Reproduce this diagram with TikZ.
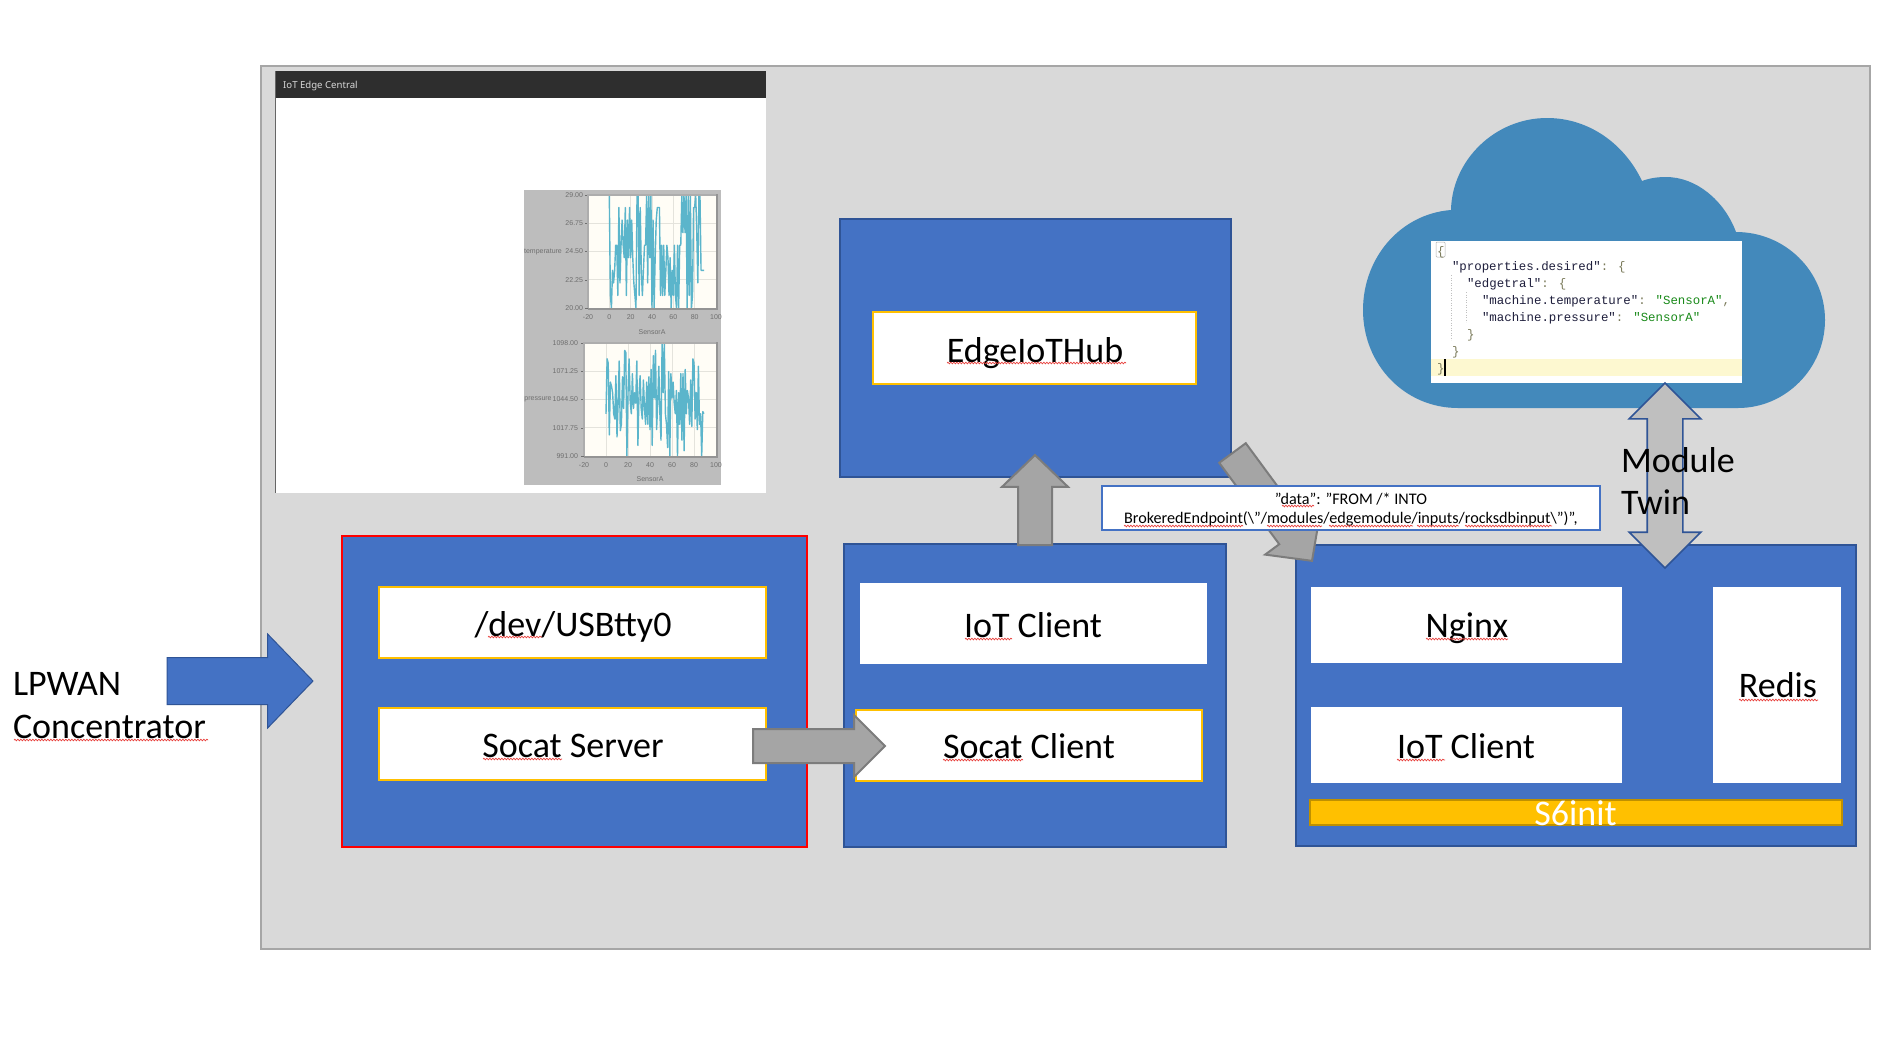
\documentclass[tikz,border=0pt]{standalone}
\usepackage{fontspec}
\setmainfont{Carlito}
\newfontfamily\monof{Liberation Mono}
\newfontfamily\notof{Noto Sans}
\newfontfamily\arialf{Liberation Sans}
\usetikzlibrary{shapes.arrows,decorations.pathmorphing}
\definecolor{panelgray}{HTML}{D9D9D9}
\definecolor{panelline}{HTML}{A6A6A6}
\definecolor{msblue}{HTML}{4472C4}
\definecolor{msblueline}{HTML}{2F5496}
\definecolor{msgold}{HTML}{FFC000}
\definecolor{msgoldline}{HTML}{BF9000}
\definecolor{arrowgray}{HTML}{A5A5A5}
\definecolor{arrowline}{HTML}{7C7C7C}
\definecolor{cloudblue}{HTML}{4389BB}
\definecolor{chartbg}{HTML}{BDBDBD}
\definecolor{plotbg}{HTML}{FFFDF6}
\definecolor{plotline}{HTML}{5BB5CB}
\definecolor{gridc}{HTML}{E4E3DC}
\definecolor{tickc}{HTML}{6E6E6E}
\definecolor{jsonkey}{HTML}{1E1E3C}
\definecolor{jsonbrace}{HTML}{7A7A5A}
\definecolor{jsonstr}{HTML}{1A8A1A}
\definecolor{jsonline}{HTML}{FDF8D0}
\definecolor{squigc}{HTML}{E8403C}
\tikzset{
  boxbase/.style={rectangle,inner sep=0pt,outer sep=0pt,line width=2pt},
  bluebox/.style={boxbase,fill=msblue,draw=msblueline},
  redbox/.style={boxbase,fill=msblue,draw=red},
  goldbox/.style={boxbase,fill=white,draw=msgold},
  whitebox/.style={boxbase,fill=white},
  lab/.style={inner sep=0pt,outer sep=0pt,anchor=base,font=\fontsize{36}{36}\selectfont},
  leftlab/.style={lab,anchor=base west},
  smalllab/.style={inner sep=0pt,outer sep=0pt,anchor=base,font=\fontsize{16.15}{16.15}\selectfont},
  jsonlab/.style={inner sep=0pt,outer sep=0pt,anchor=base west,font=\monof\fontsize{12.4}{12.4}\selectfont},
  tick/.style={inner sep=0pt,outer sep=0pt,text=tickc,font=\arialf\fontsize{7}{7}\selectfont},
  grayarrow/.style={single arrow,inner xsep=0pt,outer sep=0pt,anchor=tail,
    fill=arrowgray,draw=arrowline,line width=2pt},
  squig/.style={draw=squigc,line width=0.7pt,decorate,decoration={snake,amplitude=0.8pt,segment length=3pt}},
  plotcurve/.style={draw=plotline,line width=1.4pt,line join=round},
  plotframe/.style={draw=black!32,line width=1.2pt},
  plotshade/.style={draw=black!42,line width=2pt},
}
\begin{document}
\begin{tikzpicture}[x=1pt,y=-1pt]
\useasboundingbox[fill=white] (0,0) rectangle (1898,1039);
% outer panel
\node[boxbase,fill=panelgray,draw=panelline,minimum width=1609pt,minimum height=883pt] (panel) at (1065.5,507.5) {};
% screenshot
\node[boxbase,fill=white,minimum width=491pt,minimum height=422pt] (shot) at (520.5,282) {};
\node[boxbase,fill=black!82,minimum width=491pt,minimum height=27pt] (bar) at (520.5,84.5) {};
\node[inner sep=0pt,anchor=base west,text=white!85!black,font=\notof\fontsize{9.6}{9.6}\selectfont] (bartext) at (283,88) {IoT Edge Central};
\draw[black!60,line width=0.8pt] (shot.north west) -- (shot.south west);
\node[boxbase,fill=chartbg,minimum width=197pt,minimum height=295pt] (chart) at (622.5,337.5) {};
% chart 1
\node[boxbase,fill=plotbg,minimum width=128pt,minimum height=113pt] (p1) at (652,251.5) {};
\foreach \yy/\t in {195/29.00,223.25/26.75,251.5/24.50,279.75/22.25,308/20.00}{
  \draw[gridc,line width=0.7pt] (588,\yy) -- (716,\yy);
  \draw[tickc,line width=0.5pt] (585,\yy) -- (588,\yy);
  \node[tick,anchor=east] at (583,\yy) {\t};
}
\foreach \xx/\t in {588/-20,609.3/0,630.7/20,652/40,673.3/60,694.7/80,716/100}{
  \draw[gridc,line width=0.7pt] (\xx,195) -- (\xx,308);
  \node[tick] at (\xx,317.5) {\t};
}
\begin{scope}
\clip (588,195) rectangle (716,308);
\begin{scope}[shift={(609.3,308)},x=1.0667pt,y=12.56pt]
\draw[plotcurve] (0,9) foreach \v [count=\i] in {1,0,3,2,3,5,5,1,8,2,5,7,5,4,8,1,7,4,8,4,7,4,2,1,0,9,9,1,8,3,1,3,5,5,9,2,9,4,9,0,7,0,4,7,8,8,8,1,5,1,5,1,3,5,4,1,4,0,3,1,5,1,0,5,0,5,5,9,6,9,6,9,0,9,1,9,0,1,8,8,9,6,2,9,9,3,3,3,3}{ -- (\i,\v) };
\end{scope}
\end{scope}
\draw[plotframe] (716,195) -- (588,195) -- (588,308);
\draw[plotshade] (717,194) -- (717,309) -- (588,309);
\node[tick] (tlab) at (543,252) {temperature};
\node[tick] (xlab1) at (652,332) {SensorA};
% chart 2
\node[boxbase,fill=plotbg,minimum width=132pt,minimum height=113pt] (p2) at (650,399.5) {};
\foreach \yy/\t in {343/1098.00,371.25/1071.25,399.5/1044.50,427.75/1017.75,456/991.00}{
  \draw[gridc,line width=0.7pt] (584,\yy) -- (716,\yy);
  \draw[tickc,line width=0.5pt] (581,\yy) -- (584,\yy);
  \node[tick,anchor=east] at (578,\yy) {\t};
}
\foreach \xx/\t in {584/-20,606/0,628/20,650/40,672/60,694/80,716/100}{
  \draw[gridc,line width=0.7pt] (\xx,343) -- (\xx,456);
  \node[tick] at (\xx,465) {\t};
}
\begin{scope}
\clip (584,343) rectangle (716,456);
\begin{scope}[shift={(606,456)},x=1.1pt,y=1.056pt]
\draw[plotcurve] (0,40) foreach \v [count=\i] in {92,88,20,70,66,60,40,35,76,18,50,90,24,30,75,45,100,98,0,60,92,52,40,78,45,60,50,90,10,58,76,45,35,72,45,30,70,30,75,25,82,10,95,55,100,25,50,85,40,15,107,60,107,40,30,8,80,0,78,55,70,50,40,62,0,60,30,78,15,78,5,82,40,62,55,30,72,28,92,88,35,60,25,85,30,40,0,42,40}{ -- (\i,\v) };
\end{scope}
\end{scope}
\draw[plotframe] (716,343) -- (584,343) -- (584,456);
\draw[plotshade] (717,342) -- (717,457) -- (584,457);
\node[tick] (plab) at (538,399) {pressure};
\node[tick] (xlab2) at (650,479) {SensorA};
% cloud
\fill[cloudblue] (1458,408) -- (1738,408)
  .. controls (1786,408) and (1825,368) .. (1825,320)
  .. controls (1825,271) and (1785,232) .. (1736,232)
  .. controls (1724,200) and (1696,177) .. (1666,177)
  .. controls (1658,177) and (1650,178) .. (1642,181)
  .. controls (1625,145) and (1590,118) .. (1547,118)
  .. controls (1495,118) and (1452,160) .. (1451,210)
  .. controls (1400,214) and (1363,258) .. (1363,310)
  .. controls (1363,365) and (1405,408) .. (1458,408) -- cycle;
% JSON shot
\node[boxbase,fill=white,minimum width=311pt,minimum height=142pt] (json) at (1586.5,312) {};
\node[boxbase,fill=jsonline,minimum width=311pt,minimum height=17pt] (jsonhl) at (1586.5,367.5) {};
\draw[black!25,line width=0.5pt,dotted] (1451,275) -- (1451,340) (1466,292) -- (1466,322);
\draw[black!30,line width=0.5pt,rounded corners=1pt] (1436,242) rectangle (1445,257);
\node[jsonlab,text=jsonbrace] (j0) at (1437,255) {\{};
\node[jsonlab] (j1) at (1452,270) {\textcolor{jsonkey}{"properties.desired"}\textcolor{jsonbrace}{: \{}};
\node[jsonlab] (j2) at (1467,287) {\textcolor{jsonkey}{"edgetral"}\textcolor{jsonbrace}{: \{}};
\node[jsonlab] (j3) at (1482,304) {\textcolor{jsonkey}{"machine.temperature"}\textcolor{jsonbrace}{: }\textcolor{jsonstr}{"SensorA"}\textcolor{jsonbrace}{,}};
\node[jsonlab] (j4) at (1482,321) {\textcolor{jsonkey}{"machine.pressure"}\textcolor{jsonbrace}{: }\textcolor{jsonstr}{"SensorA"}};
\node[jsonlab,text=jsonbrace] (j5) at (1467,338) {\}};
\node[jsonlab,text=jsonbrace] (j6) at (1452,355) {\}};
\node[jsonlab,text=jsonbrace] (j7) at (1437,372) {\}};
\draw[black,line width=1.2pt] (1445,359) -- (1445,376);
% boxes
\node[redbox,minimum width=465pt,minimum height=311pt] (server) at (574.5,691.5) {};
\node[goldbox,minimum width=387pt,minimum height=71pt] (usb) at (572.5,622.5) {};
\node[goldbox,minimum width=387pt,minimum height=72pt] (socats) at (572.5,744) {};
\node[bluebox,minimum width=391pt,minimum height=258pt] (hub) at (1035.5,348) {};
\node[goldbox,minimum width=323pt,minimum height=72pt] (hubin) at (1034.5,348) {};
\node[bluebox,minimum width=382pt,minimum height=303pt] (client) at (1035,695.5) {};
\node[whitebox,minimum width=347pt,minimum height=81pt] (iot1) at (1033.5,623.5) {};
\node[goldbox,minimum width=346.5pt,minimum height=71pt] (socatc) at (1028.75,745.5) {};
\node[bluebox,minimum width=560.5pt,minimum height=301pt] (mod) at (1575.75,695.5) {};
\node[whitebox,minimum width=311pt,minimum height=76pt] (nginx) at (1466.5,625) {};
\node[whitebox,minimum width=311pt,minimum height=76pt] (iot2) at (1466.5,745) {};
\node[whitebox,minimum width=128pt,minimum height=196pt] (redis) at (1777,685) {};
\node[boxbase,fill=msgold,draw=msgoldline,minimum width=532pt,minimum height=25pt] (s6) at (1576,812.5) {};
% arrows
\coordinate (lpin) at (167,681);
\node[single arrow,inner xsep=0pt,inner ysep=23pt,outer sep=0pt,anchor=tail,fill=msblue,draw=msblueline,line width=1pt,
  minimum height=146pt,minimum width=93pt,single arrow head extend=23.5pt,single arrow tip angle=92] (lparrow) at (lpin) {};
\coordinate (sstart) at (753,746);
\node[grayarrow,inner ysep=16pt,minimum height=132pt,minimum width=60pt,single arrow head extend=14pt,single arrow tip angle=90] (sarrow) at (sstart) {};
\coordinate (ustart) at (1035,545);
\node[grayarrow,inner ysep=16pt,rotate=90,minimum height=90pt,minimum width=64pt,single arrow head extend=16pt,single arrow tip angle=92] (uarrow) at (ustart) {};
\coordinate (dstart) at (1232.5,453);
\node[grayarrow,inner ysep=15.5pt,rotate=-53.6,minimum height=134pt,minimum width=66pt,single arrow head extend=17.5pt,single arrow tip angle=92] (darrow) at (dstart) {};
\node[double arrow,inner xsep=0pt,inner ysep=17pt,outer sep=0pt,fill=black!25,draw=msblueline,line width=1.6pt,
  rotate=90,minimum height=185pt,minimum width=70pt,double arrow head extend=18pt,double arrow tip angle=90] (twin) at (1665,475.5) {};
% query box
\node[boxbase,fill=white,draw=msblue,minimum width=498pt,minimum height=44pt] (query) at (1351,508) {};
\node[smalllab] (q1) at (1351,504) {"data": "FROM /* INTO};
\node[smalllab] (q2) at (1351,523) {BrokeredEndpoint(\textbackslash"/modules/edgemodule/inputs/rocksdbinput\textbackslash")",};
% labels
\node[leftlab] (lpwan) at (13,695) {LPWAN};
\node[leftlab] (conc) at (13,738) {Concentrator};
\node[lab] (tusb) at (573,636) {/dev/USBtty0};
\node[lab] (tss) at (573,757) {Socat Server};
\node[lab] (thub) at (1035,362) {EdgeIoTHub};
\node[lab] (tiot1) at (1033,637) {IoT Client};
\node[lab] (tsc) at (1029,758.5) {Socat Client};
\node[lab] (tng) at (1467,637.5) {Nginx};
\node[lab] (tiot2) at (1466,758) {IoT Client};
\node[lab] (tred) at (1778,697.5) {Redis};
\node[lab,text=white] (ts6) at (1575.5,825) {S6init};
\node[leftlab] (tmod) at (1621,472) {Module};
\node[leftlab] (ttwin) at (1621,514) {Twin};
% spelling marks
\foreach \a/\b/\c in {14/208/740,488/542/637,483/562/759,947/1126/363,965/1012/639,943/1023/760,1426/1508/639,1397/1445/760,1739/1818/700,1282/1314/506,1124/1243/526,1267/1322/526,1329/1413/526,1417/1459/526,1465/1552/526}
  \draw[squig] (\a,\c) -- (\b,\c);
\end{tikzpicture}
\end{document}
